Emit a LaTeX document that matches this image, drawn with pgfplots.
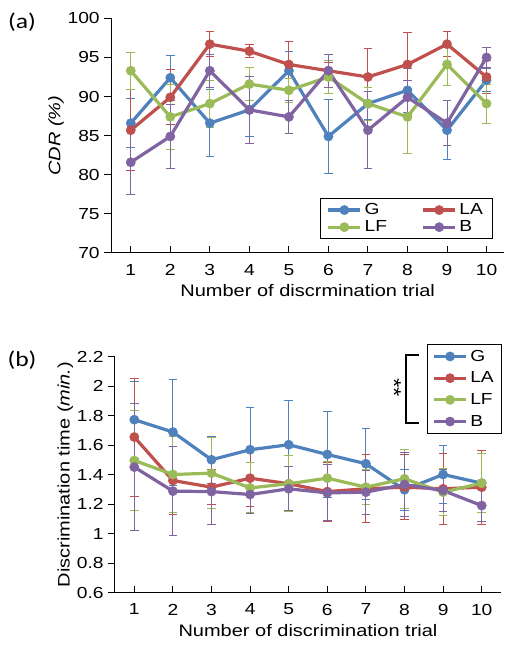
\documentclass[border=0pt]{standalone}
\usepackage{fontspec}
\setmainfont{Liberation Sans}[FakeStretch=1.2]
\newfontfamily\calibri{Carlito}[FakeStretch=1.2]
\usepackage{pgfplots}
\pgfplotsset{compat=1.18}
\usepackage{pgfplotstable}

\definecolor{cG}{RGB}{79,129,189}
\definecolor{cLA}{RGB}{192,80,77}
\definecolor{cLF}{RGB}{155,187,89}
\definecolor{cB}{RGB}{128,100,162}

\pgfplotstableread{
x G eG LA eLA LF eLF B eB
1 86.6 3.1 85.7 5.2 93.3 2.4 81.6 4.1
2 92.4 2.9 89.9 3.5 87.4 4.2 84.9 4.1
3 86.6 4.3 96.7 1.6 89.1 3.0 93.3 2.1
4 88.3 3.4 95.8 0.8 91.6 2.1 88.3 4.3
5 93.3 2.5 94.1 3.0 90.8 1.5 87.4 2.1
6 84.9 4.7 93.3 1.1 92.5 2.1 93.3 2.1
7 89.1 2.0 92.5 3.6 89.1 2.1 85.7 4.9
8 90.8 2.8 94.1 4.1 87.4 4.7 89.9 2.2
9 85.7 3.8 96.7 1.6 94.1 2.7 86.6 2.9
10 92.1 1.5 92.5 2.1 89.1 2.5 95.0 1.3
}\topdata

\pgfplotstableread{
x G eG LA eLA LF eLF B eB
1 1.773 0.26 1.655 0.40 1.496 0.34 1.451 0.43
2 1.689 0.36 1.360 0.23 1.401 0.26 1.288 0.30
3 1.501 0.16 1.315 0.12 1.410 0.24 1.285 0.22
4 1.569 0.29 1.376 0.19 1.310 0.17 1.265 0.13
5 1.603 0.30 1.338 0.19 1.338 0.19 1.304 0.15
6 1.537 0.29 1.285 0.20 1.376 0.11 1.276 0.19
7 1.474 0.24 1.304 0.23 1.315 0.12 1.281 0.15
8 1.297 0.14 1.315 0.22 1.372 0.20 1.333 0.22
9 1.401 0.20 1.304 0.24 1.281 0.16 1.292 0.14
10 1.342 0.20 1.315 0.25 1.342 0.20 1.190 0.11
}\botdata

\pgfplotsset{
  ser/.style={color=#1, line width=2.4pt, mark=*, mark size=3.5pt,
    mark options={solid, fill=#1, line width=0.3pt},
    error bars/.cd, y dir=both, y explicit,
    error bar style={line width=0.7pt, #1},
    error mark=-,
    error mark options={rotate=90, line width=0.7pt, mark size=3.2pt, #1}},
  common/.style={
    scale only axis,
    xmin=0.5,
    axis x line*=bottom, axis y line*=left,
    axis line style={line width=0.75pt, -, black},
    xtick={1,...,10},
    tick align=outside, major tick length=5pt,
    tick style={line width=0.75pt, black},
    major x tick style={yshift=5pt},
    /pgf/number format/assume math mode=true,
    ticklabel style={font=\fontsize{12}{14}\selectfont},
    label style={font=\fontsize{12.5}{15}\selectfont},
    ylabel style={yshift=-4pt},
    xlabel={Number of discrimination trial},
    legend cell align=left,
    legend image code/.code={\draw[mark repeat=2, mark phase=2, ##1] plot coordinates {(0cm,0cm) (0.42cm,0cm) (0.84cm,0cm)};},
  },
}

\begin{document}
\begin{tikzpicture}
\useasboundingbox (0pt,0pt) rectangle (378.75pt,490.5pt);

\begin{axis}[common,
  at={(83.25pt,300.75pt)}, anchor=origin,
  width=295pt, height=176pt,
  xmax=10.45, ymin=70, ymax=100,
  ytick={70,75,...,100},
  xlabel={Number of discrmination trial},
  ylabel={\textit{CDR (\%)}},
  legend columns=2,
  legend style={at={(0.9705,0.233)}, anchor=north east, draw=black, line width=0.75pt,
    font=\fontsize{12}{14}\selectfont, inner xsep=5pt, inner ysep=1.5pt, row sep=-1pt,
    /tikz/every even column/.append style={column sep=24pt}},
]
\addplot[ser=cG] table[x=x, y=G, y error=eG] {\topdata};
\addlegendentry{G}
\addplot[ser=cLA] table[x=x, y=LA, y error=eLA] {\topdata};
\addlegendentry{LA}
\addplot[ser=cLF] table[x=x, y=LF, y error=eLF] {\topdata};
\addlegendentry{LF}
\addplot[ser=cB] table[x=x, y=B, y error=eB] {\topdata};
\addlegendentry{B}
\end{axis}

\begin{axis}[common,
  at={(86.25pt,46.125pt)}, anchor=origin,
  width=289.5pt, height=176.8pt,
  xmax=10.5, ymin=0.6, ymax=2.2,
  ytick={0.6,0.8,...,2.21},
  ylabel={Discrimination time (\textit{min.})},
  legend style={at={(0.8075,1.054)}, anchor=north west, draw=black, line width=0.75pt,
    font=\fontsize{12}{14}\selectfont, inner xsep=4pt, inner ysep=2pt, row sep=2.5pt},
]
\addplot[ser=cG] table[x=x, y=G, y error=eG] {\botdata};
\addlegendentry{G}
\addplot[ser=cLA] table[x=x, y=LA, y error=eLA] {\botdata};
\addlegendentry{LA}
\addplot[ser=cLF] table[x=x, y=LF, y error=eLF] {\botdata};
\addlegendentry{LF}
\addplot[ser=cB] table[x=x, y=B, y error=eB] {\botdata};
\addlegendentry{B}
\end{axis}

\draw[line width=1.5pt] (314.25pt,224.25pt) -- (304.5pt,224.25pt) -- (304.5pt,173pt) -- (314.25pt,173pt);
\node[rotate=-90, font=\fontsize{15}{16}\selectfont] at (295.5pt,199.5pt) {**};

\node[font=\calibri\fontsize{16}{18}\selectfont] at (16.5pt,474pt) {(a)};
\node[font=\calibri\fontsize{16}{18}\selectfont] at (16.5pt,220.5pt) {(b)};
\end{tikzpicture}
\end{document}
